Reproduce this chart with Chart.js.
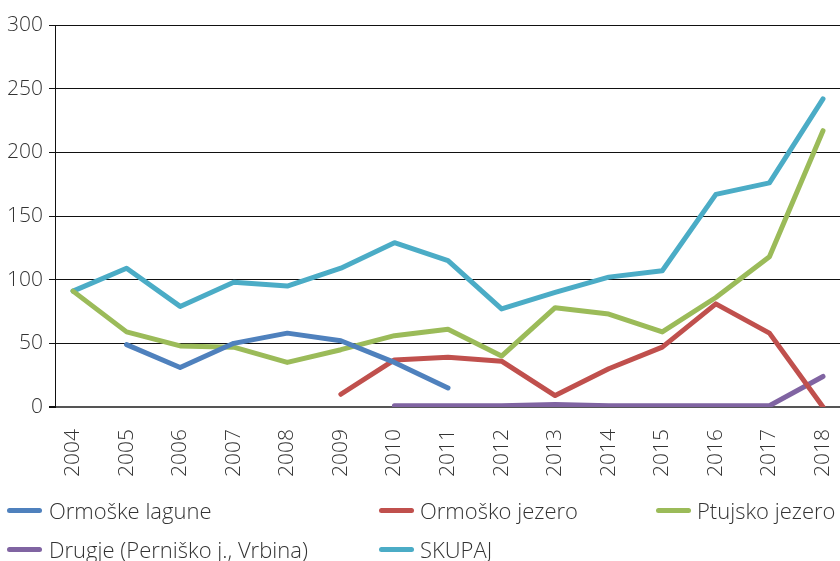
<!DOCTYPE html>
<html>
<head>
<meta charset="utf-8">
<script src="https://cdn.jsdelivr.net/npm/chart.js@4"></script>
<style>
  html, body { margin: 0; padding: 0; background: #fff; }
  #wrap { position: relative; width: 840px; height: 561px; }
  #c { position: absolute; left: 0; top: 0; }
  .lg { position: absolute; font-family: "Open Sans", sans-serif; font-weight: 300; font-size: 22px; color: #333; white-space: nowrap; line-height: 26px; }
  .sw { position: absolute; width: 35px; height: 5px; border-radius: 3px; }
</style>
</head>
<body>
<div id="wrap">
  <canvas id="c" width="840" height="561"></canvas>
  <div id="legend"></div>
</div>
<script>
const years = [2004, 2005, 2006, 2007, 2008, 2009, 2010, 2011, 2012, 2013, 2014, 2015, 2016, 2017, 2018];
const ormoskeLagune = [null, 49, 31, 50, 58, 52, 35, 15, null, null, null, null, null, null, null];
const ormoskoJezero = [null, null, null, null, null, 10, 37, 39, 36, 9, 30, 47, 81, 58, 0];
const ptujskoJezero = [91, 59, 48, 47, 35, 45, 56, 61, 40, 78, 73, 59, 86, 118, 217];
const drugje = [null, null, null, null, null, null, 1, 1, 1, 2, 1, 1, 1, 1, 24];
const skupaj = [91, 109, 79, 98, 95, 109, 129, 115, 77, 90, 102, 107, 167, 176, 242];
const yTicks = [0, 50, 100, 150, 200, 250, 300];

const seriesNames = ['Ormoške lagune', 'Ormoško jezero', 'Ptujsko jezero', 'Drugje (Perniško j., Vrbina)', 'SKUPAJ'];
const seriesValues = [ormoskeLagune, ormoskoJezero, ptujskoJezero, drugje, skupaj];
const seriesColors = ['#4f81bd', '#c0504d', '#9bbb59', '#8064a2', '#4bacc6'];

const datasets = seriesNames.map((name, i) => ({
  label: name,
  data: years.map((yr, j) => ({ x: yr, y: seriesValues[i][j] })),
  borderColor: seriesColors[i],
  backgroundColor: seriesColors[i],
  borderWidth: 5,
  pointRadius: 0,
  borderCapStyle: 'round',
  borderJoinStyle: 'round',
  tension: 0,
  fill: false,
  spanGaps: false
}));
datasets[3].order = 1;

const tickFont = { family: '"Open Sans", sans-serif', size: 21, weight: '300' };

new Chart(document.getElementById('c'), {
  type: 'line',
  data: { datasets },
  options: {
    responsive: false,
    animation: false,
    layout: { padding: { top: 25, right: 0, bottom: 74, left: 0 } },
    plugins: { legend: { display: false }, tooltip: { enabled: false } },
    scales: {
      x: {
        type: 'linear',
        min: 2004 - 18 / 53.57,
        max: 2018 + 17 / 53.57,
        afterBuildTicks: (s) => { s.ticks = years.map(v => ({ value: v })); },
        afterFit: (s) => { s.height = 80; s.paddingLeft = 0; s.paddingRight = 0; },
        grid: { display: false },
        border: { display: false },
        ticks: {
          font: tickFont,
          color: '#333',
          minRotation: 90,
          maxRotation: 90,
          padding: 14,
          autoSkip: false,
          callback: (v) => String(v)
        }
      },
      y: {
        min: 0,
        max: 300,
        afterBuildTicks: (s) => { s.ticks = yTicks.map(v => ({ value: v })); },
        afterFit: (s) => { s.width = 55; },
        grid: {
          color: (ctx) => (ctx.tick && ctx.tick.value === 0 ? '#555' : '#111'),
          lineWidth: (ctx) => (ctx.tick && ctx.tick.value === 0 ? 2 : 1),
          tickLength: 6,
          tickColor: '#111'
        },
        border: { display: true, color: '#111', width: 1 },
        ticks: { font: tickFont, color: '#333', padding: 6 }
      }
    }
  }
});

const legendItems = [
  { i: 0, sx: 7, tx: 49, y: 511 },
  { i: 1, sx: 379, tx: 420, y: 511 },
  { i: 2, sx: 656, tx: 697, y: 511 },
  { i: 3, sx: 7, tx: 49, y: 550 },
  { i: 4, sx: 379, tx: 420, y: 550 }
];
const lg = document.getElementById('legend');
legendItems.forEach(it => {
  const sw = document.createElement('div');
  sw.className = 'sw';
  sw.style.left = it.sx + 'px';
  sw.style.top = (it.y - 3) + 'px';
  sw.style.background = seriesColors[it.i];
  lg.appendChild(sw);
  const t = document.createElement('div');
  t.className = 'lg';
  t.style.left = it.tx + 'px';
  t.style.top = (it.y - 14) + 'px';
  t.textContent = seriesNames[it.i];
  lg.appendChild(t);
});
</script>
</body>
</html>
